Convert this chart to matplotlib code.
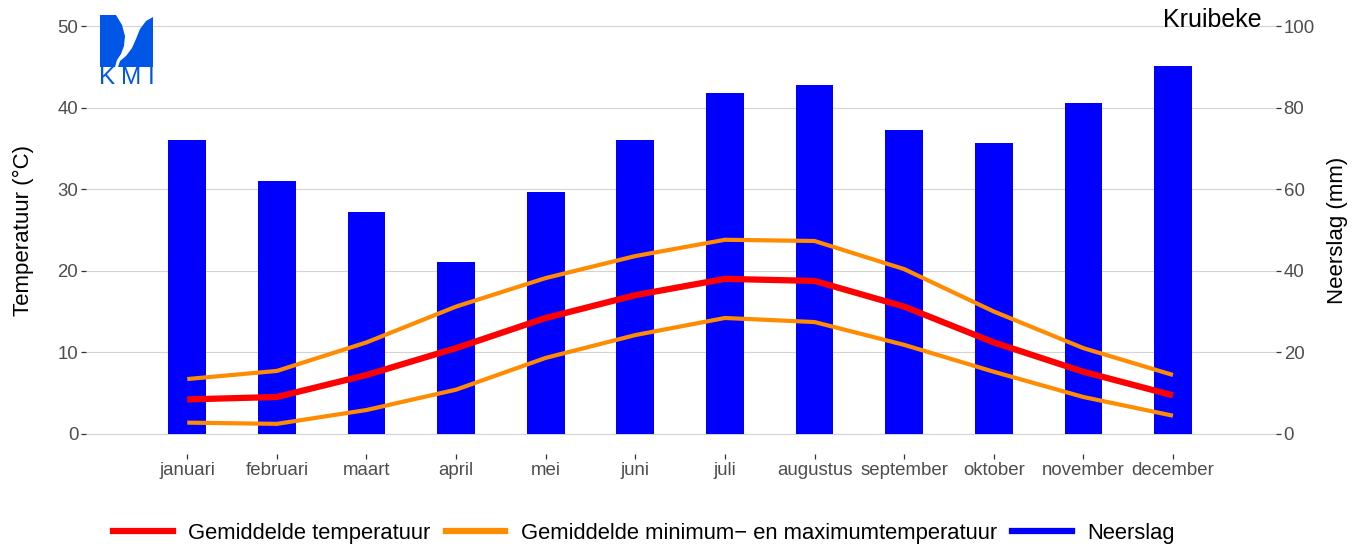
import numpy as np
import matplotlib
matplotlib.use("Agg")
import matplotlib.pyplot as plt
from matplotlib.lines import Line2D
from matplotlib.patches import Polygon

plt.rcParams['font.family'] = ['Liberation Sans', 'DejaVu Sans']

months = ["januari", "februari", "maart", "april", "mei", "juni", "juli",
          "augustus", "september", "oktober", "november", "december"]
neerslag = [72.0, 62.0, 54.4, 42.2, 59.3, 72.0, 83.6, 85.5, 74.5, 71.3, 81.1, 90.2]
t_gem = [4.2, 4.5, 7.2, 10.5, 14.2, 17.0, 19.0, 18.75, 15.6, 11.2, 7.6, 4.7]
t_max = [6.7, 7.7, 11.2, 15.6, 19.1, 21.8, 23.8, 23.65, 20.2, 15.0, 10.5, 7.2]
t_min = [1.35, 1.2, 2.9, 5.4, 9.3, 12.1, 14.2, 13.7, 10.9, 7.6, 4.5, 2.2]

W, H = 1357, 547


def fx(x):
    return x / W


def fy(y):
    return 1 - y / H


fig = plt.figure(figsize=(W / 100, H / 100), dpi=100)
ax = fig.add_axes([fx(86), fy(454), 1190 / W, 448 / H])
ax2 = ax.twinx()

x = np.arange(len(months))

# bars (precipitation) on the right axis, behind the temperature lines
ax2.bar(x, neerslag, width=0.42, color='#0000ff', zorder=2)
ax2.set_ylim(-5, 105)
ax2.set_yticks([0, 20, 40, 60, 80, 100])
ax2.yaxis.grid(True, color='#d3d3d3', lw=0.8, zorder=0)
ax2.set_axisbelow(True)
ax2.set_ylabel("Neerslag (mm)", fontsize=16, labelpad=9)

ax.plot(x, t_max, color='#ff8c00', lw=3.0, solid_capstyle='butt')
ax.plot(x, t_min, color='#ff8c00', lw=3.0, solid_capstyle='butt')
ax.plot(x, t_gem, color='#ff0000', lw=4.5, solid_capstyle='butt')
ax.set_ylim(-2.5, 52.5)
ax.set_yticks([0, 10, 20, 30, 40, 50])
ax.set_xlim(-1.13, 12.15)
ax.set_xticks(x)
ax.set_xticklabels(months)
ax.set_ylabel("Temperatuur (°C)", fontsize=16, labelpad=17)

ax.set_zorder(2)
ax2.set_zorder(1)
ax.patch.set_visible(False)

for a in (ax, ax2):
    for s in a.spines.values():
        s.set_visible(False)
    a.tick_params(length=3.5, width=0.9, color='#333333', labelcolor='#4d4d4d',
                  labelsize=13.4, pad=2)

fig.text(fx(1262), fy(20), "Kruibeke", fontsize=18, ha='right', va='center')

# KMI logo
logo_c = '#0057e7'
left_piece = [(100, 15), (116, 15), (122, 25), (125, 36), (124, 46), (121, 54),
              (117, 60), (115, 67), (100, 67)]
right_piece = [(153, 17), (146, 21), (140, 29), (136, 39), (132, 48), (126, 56),
               (120, 61), (118, 67), (153, 67)]
for pts in (left_piece, right_piece):
    fig.patches.append(Polygon([(fx(px), fy(py)) for px, py in pts], closed=True,
                               facecolor=logo_c, edgecolor='none',
                               transform=fig.transFigure))
for letter, cx in (("K", 107.5), ("M", 131.5), ("I", 151.5)):
    fig.text(fx(cx), fy(77.5), letter, fontsize=17.5, color=logo_c,
             ha='center', va='center')

handles = [Line2D([], [], color='#ff0000', lw=4.5),
           Line2D([], [], color='#ff8c00', lw=4.5),
           Line2D([], [], color='#0000ff', lw=4.5)]
labels = ["Gemiddelde temperatuur", "Gemiddelde minimum\u2212 en maximumtemperatuur",
          "Neerslag"]
fig.legend(handles, labels, loc='center', bbox_to_anchor=(fx(644), fy(533)),
           ncol=3, frameon=False, fontsize=15.85, handlelength=2.7,
           handletextpad=0.7, columnspacing=0.7)

fig.savefig("out.png", dpi=100, facecolor='white')
